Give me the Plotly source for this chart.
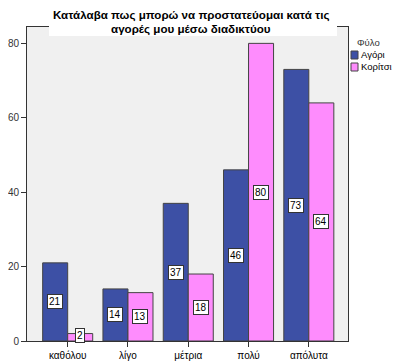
import plotly.graph_objects as go

categories = ["καθόλου", "λίγο", "μέτρια", "πολύ", "απόλυτα"]
boys = [21, 14, 37, 46, 73]
girls = [2, 13, 18, 80, 64]
series_names = ["Αγόρι", "Κορίτσι"]
legend_title = "Φύλο"
title_lines = ["Κατάλαβα πως μπορώ να προστατεύομαι κατά τις", "αγορές μου μέσω διαδικτύου"]

BLUE = "#3d50a5"
PINK = "#fe8cfd"
FONT = "Liberation Sans, Arial, sans-serif"

# page offset (body margin) and plot area in screen pixels
OFF = 8
L, R, T, B = 27, 348, 27, 341
W, H = R - L, B - T


def px(x):
    return (x - L) / W


def py(y):
    return (B - y) / H


fig = go.Figure()
for name, vals, col in [(series_names[0], boys, BLUE), (series_names[1], girls, PINK)]:
    fig.add_trace(go.Bar(
        x=categories, y=vals, name=name,
        marker=dict(color=col, line=dict(color="#444444", width=1)),
        hoverinfo="skip", showlegend=False,
    ))

# value labels in white boxes
for vals, shift in [(boys, -12.5), (girls, 12.5)]:
    for c, v in zip(categories, vals):
        fig.add_annotation(
            x=c, y=max(v / 2, 1.6), text=str(v), showarrow=False,
            xshift=shift, font=dict(family=FONT, size=10, color="#000000"),
            bgcolor="white", bordercolor="#333333", borderwidth=1, borderpad=1,
        )

# title band
fig.add_shape(type="rect", xref="paper", yref="paper",
              x0=px(49), x1=px(337), y0=py(36), y1=py(-5),
              fillcolor="white", line=dict(width=0), layer="above")
for i, line in enumerate(title_lines):
    fig.add_annotation(xref="paper", yref="paper", x=px(191), y=py(15 + 13.5 * i),
                       yanchor="middle", xanchor="center", text="<b>" + line + "</b>",
                       showarrow=False, font=dict(family=FONT, size=11.6, color="#000000"))

# manual legend
fig.add_annotation(xref="paper", yref="paper", x=px(355), y=py(42), xanchor="left",
                   yanchor="middle", text=legend_title, showarrow=False,
                   font=dict(family=FONT, size=9.5, color="#333333"))
for i, (name, col) in enumerate([(series_names[0], BLUE), (series_names[1], PINK)]):
    cy = 55 + 12 * i
    fig.add_shape(type="rect", xref="paper", yref="paper",
                  x0=px(351), x1=px(358), y0=py(cy + 4), y1=py(cy - 4),
                  fillcolor=col, line=dict(color="#444444", width=1))
    fig.add_annotation(xref="paper", yref="paper", x=px(359), y=py(cy), xanchor="left",
                       yanchor="middle", text=name, showarrow=False,
                       font=dict(family=FONT, size=9.5, color="#000000"))

fig.update_layout(
    width=400, height=364,
    margin=dict(l=L - OFF, r=400 - (R - OFF), t=T - OFF, b=364 - (B - OFF), autoexpand=False),
    paper_bgcolor="white", plot_bgcolor="#f0f0f0",
    barmode="group", bargap=0.17, bargroupgap=0,
    showlegend=False,
    font=dict(family=FONT, size=10, color="#000000"),
)
fig.update_xaxes(range=[-0.675, 4.65], showline=True, linecolor="#333333", linewidth=1,
                 mirror=True, ticks="outside", ticklen=5, tickcolor="#333333",
                 tickfont=dict(family=FONT, size=10, color="#000000"), showgrid=False,
                 automargin=False)
fig.update_yaxes(range=[0, 84.4], tickvals=[0, 20, 40, 60, 80], showline=True,
                 linecolor="#333333", linewidth=1, mirror=True, ticks="outside",
                 ticklen=5, tickcolor="#333333", showgrid=False, zeroline=False,
                 tickfont=dict(family=FONT, size=10, color="#333333"), automargin=False)

fig.write_html("out.html")
